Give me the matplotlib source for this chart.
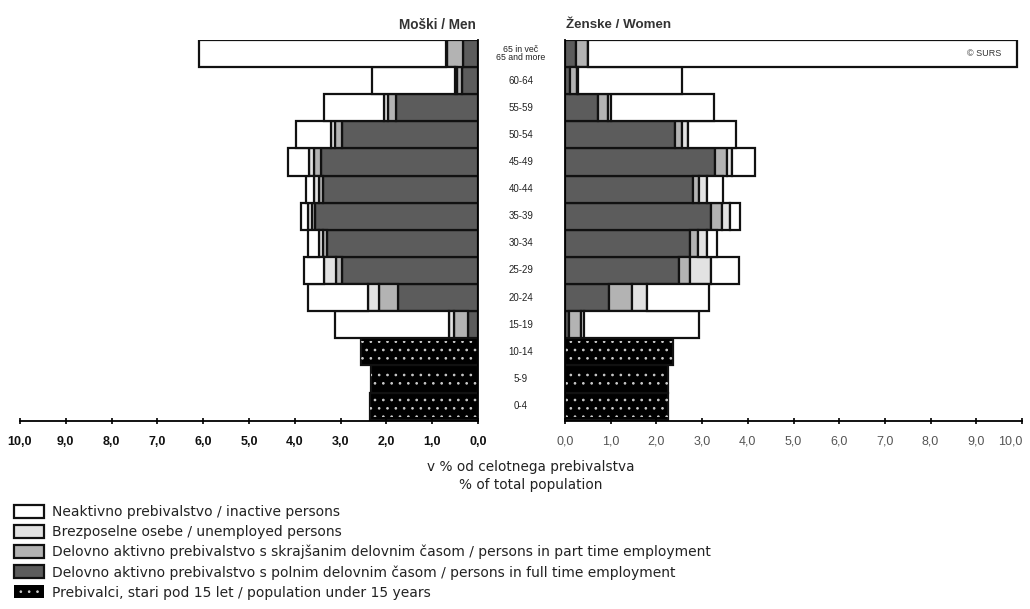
import matplotlib
matplotlib.use("Agg")
import matplotlib.pyplot as plt
from matplotlib.patches import Patch
from matplotlib.ticker import FuncFormatter
from matplotlib.transforms import blended_transform_factory
import numpy as np

plt.rcParams['font.family'] = ['Liberation Sans', 'DejaVu Sans']
plt.rcParams['hatch.linewidth'] = 0.7

# Age groups, bottom to top
age_labels = ["0-4", "5-9", "10-14", "15-19", "20-24", "25-29", "30-34", "35-39",
              "40-44", "45-49", "50-54", "55-59", "60-64", "65 in več\n65 and more"]

# Men (% of total population) - bottom to top
men_under15 = [2.36, 2.34, 2.55, 0, 0, 0, 0, 0, 0, 0, 0, 0, 0, 0]
men_full    = [0, 0, 0, 0.22, 1.75, 2.97, 3.30, 3.56, 3.38, 3.43, 2.97, 1.79, 0.35, 0.33]
men_part    = [0, 0, 0, 0.31, 0.41, 0.13, 0.09, 0.07, 0.09, 0.15, 0.15, 0.17, 0.10, 0.35]
men_unemp   = [0, 0, 0, 0.11, 0.24, 0.26, 0.09, 0.08, 0.10, 0.10, 0.09, 0.09, 0.05, 0.02]
men_inact   = [0, 0, 0, 2.48, 1.31, 0.44, 0.23, 0.15, 0.19, 0.47, 0.76, 1.31, 1.81, 5.39]

# Women (% of total population) - bottom to top
wom_under15 = [2.25, 2.25, 2.36, 0, 0, 0, 0, 0, 0, 0, 0, 0, 0, 0]
wom_full    = [0, 0, 0, 0.09, 0.96, 2.50, 2.74, 3.19, 2.80, 3.28, 2.41, 0.73, 0.12, 0.24]
wom_part    = [0, 0, 0, 0.26, 0.50, 0.24, 0.17, 0.24, 0.13, 0.26, 0.15, 0.22, 0.15, 0.26]
wom_unemp   = [0, 0, 0, 0.06, 0.33, 0.46, 0.19, 0.17, 0.17, 0.11, 0.13, 0.05, 0.02, 0.01]
wom_inact   = [0, 0, 0, 2.52, 1.36, 0.61, 0.23, 0.23, 0.36, 0.51, 1.05, 2.26, 2.27, 9.38]

ticks = [0, 1, 2, 3, 4, 5, 6, 7, 8, 9, 10]

legend_labels = [
    "Neaktivno prebivalstvo / inactive persons",
    "Brezposelne osebe / unemployed persons",
    "Delovno aktivno prebivalstvo s skrajšanim delovnim časom / persons in part time employment",
    "Delovno aktivno prebivalstvo s polnim delovnim časom / persons in full time employment",
    "Prebivalci, stari pod 15 let / population under 15 years",
]

C_INACT = "#ffffff"
C_UNEMP = "#e2e2e2"
C_PART = "#b3b3b3"
C_FULL = "#5c5c5c"
C_U15 = "#000000"
EDGE = "#111111"
LW = 1.6

W, H = 1030, 609
fig = plt.figure(figsize=(W / 100, H / 100), dpi=100)

bottom = 1 - 421 / H
top = 1 - 40 / H
axL = fig.add_axes([20 / W, bottom, (478 - 20) / W, top - bottom])
axR = fig.add_axes([565 / W, bottom, (1022 - 565) / W, top - bottom])

n = len(age_labels)
y = np.arange(n)

def draw(ax, u15, full, part, unemp, inact):
    u15 = np.array(u15); full = np.array(full); part = np.array(part)
    unemp = np.array(unemp); inact = np.array(inact)
    kw = dict(height=1.0, edgecolor=EDGE, linewidth=LW)
    m = u15 > 0
    ax.barh(y[m], u15[m], color=C_U15, **kw)
    ax.barh(y[m], u15[m], height=0.8, facecolor="none", edgecolor="#cccccc",
            linewidth=0, hatch="..")
    m = full > 0
    ax.barh(y[m], full[m], color=C_FULL, **kw)
    left = full
    m = part > 0
    ax.barh(y[m], part[m], left=left[m], color=C_PART, **kw)
    left = left + part
    m = unemp > 0
    ax.barh(y[m], unemp[m], left=left[m], color=C_UNEMP, **kw)
    left = left + unemp
    m = inact > 0
    ax.barh(y[m], inact[m], left=left[m], color=C_INACT, **kw)

draw(axL, men_under15, men_full, men_part, men_unemp, men_inact)
draw(axR, wom_under15, wom_full, wom_part, wom_unemp, wom_inact)

fmt = FuncFormatter(lambda v, p: f"{v:.1f}".replace(".", ","))
for ax in (axL, axR):
    ax.set_ylim(-0.55, n - 0.5)
    ax.set_yticks([])
    ax.set_xticks(ticks)
    ax.xaxis.set_major_formatter(fmt)
    ax.spines["top"].set_visible(False)
    ax.tick_params(axis="x", direction="inout", length=5, width=1.2, pad=8,
                   labelsize=9)
    ax.spines["bottom"].set_linewidth(1.3)

axL.set_xlim(10, 0)
axL.spines["left"].set_visible(False)
axL.spines["right"].set_linewidth(1.3)
for lab in axL.get_xticklabels():
    lab.set_fontweight("bold")
    lab.set_color("#111111")

axR.set_xlim(0, 10)
axR.spines["right"].set_visible(False)
axR.spines["left"].set_linewidth(1.3)
for lab in axR.get_xticklabels():
    lab.set_color("#555555")
axR.get_xticklabels()[-1].set_horizontalalignment("right")

# Age labels in the centre
tr = blended_transform_factory(fig.transFigure, axL.transData)
for yi, lab in zip(y, age_labels):
    fs = 6.3 if "\n" in lab else 7.0
    fig.text(521 / W, yi, lab, transform=tr, ha="center", va="center",
             fontsize=fs, color="#222222", linespacing=0.8)

# Titles
fig.text(476 / W, 1 - 25 / H, "Moški / Men", ha="right", va="center",
         fontsize=9.8, fontweight="bold", color="#333333")
fig.text(566 / W, 1 - 25 / H, "Ženske / Women", ha="left", va="center",
         fontsize=9.6, fontweight="bold", color="#333333")

axR.text(0.955, n - 1, "© SURS",
         transform=blended_transform_factory(axR.transAxes, axR.transData),
         ha="right", va="center", fontsize=6.5, color="#333333")

# Axis title
fig.text(531 / W, 1 - 467 / H, "v % od celotnega prebivalstva", ha="center",
         va="center", fontsize=9.8, color="#222222", family="DejaVu Sans")
fig.text(531 / W, 1 - 485 / H, "% of total population", ha="center",
         va="center", fontsize=9.8, color="#222222", family="DejaVu Sans")

# Legend
handles = [
    Patch(facecolor=C_INACT, edgecolor=EDGE, linewidth=LW),
    Patch(facecolor=C_UNEMP, edgecolor=EDGE, linewidth=LW),
    Patch(facecolor=C_PART, edgecolor=EDGE, linewidth=LW),
    Patch(facecolor=C_FULL, edgecolor=EDGE, linewidth=LW),
    Patch(facecolor=C_U15, edgecolor="#cccccc", linewidth=0, hatch=".."),
]
leg = fig.legend(handles, legend_labels, loc="upper left",
                 bbox_to_anchor=(11 / W, 1 - 502 / H), frameon=False,
                 prop={"family": "DejaVu Sans", "size": 10.0},
                 handlelength=2.2, handleheight=1.05,
                 labelspacing=0.42, handletextpad=0.55, borderaxespad=0,
                 borderpad=0.2)
for t in leg.get_texts():
    t.set_color("#222222")

fig.savefig("out.png", dpi=100)
